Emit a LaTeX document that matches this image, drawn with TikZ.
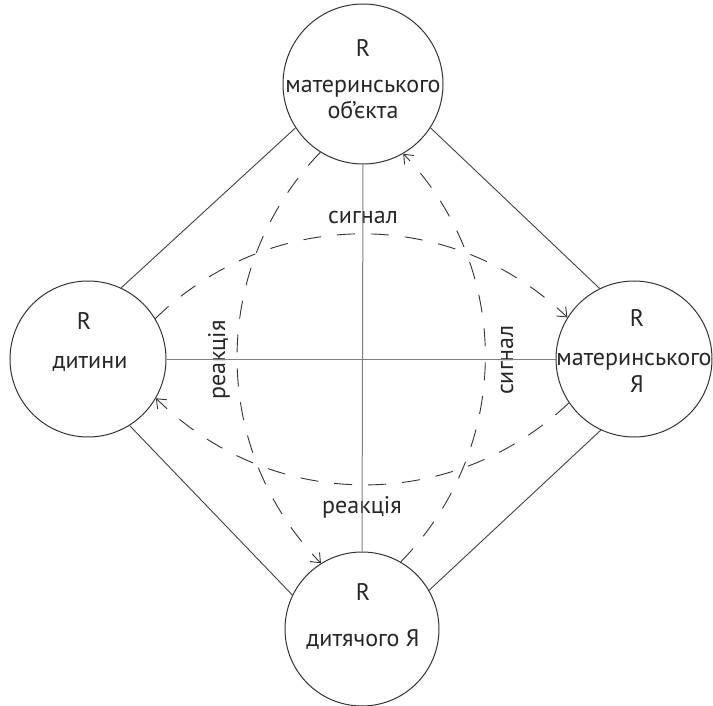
\documentclass[tikz,border=0pt]{standalone}
\usepackage{fontspec}
\setmainfont{PT Sans}
\usetikzlibrary{arrows.meta}
\begin{document}
\begin{tikzpicture}[x=1pt,y=1pt,
  circ/.style={circle,draw=black!80,line width=1pt,minimum size=156pt,inner sep=0pt},
  edgeline/.style={draw=black!75,line width=0.9pt},
  crossline/.style={draw=black!50,line width=1pt},
  flow/.style={draw=black!80,line width=0.9pt,dash pattern=on 18pt off 16pt,
    -{Straight Barb[length=8pt,width=13pt]}},
  lbl/.style={font=\fontsize{24}{28}\selectfont,text=black!85,inner sep=0pt,anchor=base}]
\useasboundingbox (0,0) rectangle (713,-706);
% circles
\node[circ,minimum size=160pt] (nT) at (363,-84) {};
\node[circ] (nL) at (88,-359) {};
\node[circ] (nR) at (634,-359) {};
\node[circ,minimum size=154pt] (nB) at (362,-629) {};
% texts
\node[lbl] (tTr) at (363,-57) {R};
\node[lbl] (tT1) at (363,-93) {материнського};
\node[lbl] (tT2) at (363,-119) {об’єкта};
\node[lbl] (tLr) at (84,-329) {R};
\node[lbl] (tL1) at (90,-368) {дитини};
\node[lbl] (tRr) at (637,-326) {R};
\node[lbl] (tR1) at (634,-365) {материнського};
\node[lbl] (tR2) at (637,-392) {Я};
\node[lbl] (tBr) at (363,-600) {R};
\node[lbl] (tB1) at (363,-646) {дитячого Я};
\node[lbl] (sTop) at (363,-224) {сигнал};
\node[lbl] (rBot) at (362,-513) {реакція};
\node[lbl,rotate=90] (rLeft) at (225,-360) {реакція};
\node[lbl,rotate=90] (sRight) at (513,-360) {сигнал};
% cross
\draw[crossline] (nT.south) -- (nB.north);
\draw[crossline] (nL.east) -- (nR.west);
% diamond
\draw[edgeline] (nL.65) -- (nT.213);
\draw[edgeline] (nT.327) -- (nR.116);
\draw[edgeline] (nL.-58) -- (nB.154);
\draw[edgeline] (nB.30) -- (nR.245);
% dashed flows
\draw[flow] (nL.31) to[bend left=44] (nR.148);
\draw[flow] (nR.214) to[bend left=44] (nL.330);
\draw[flow] (nT.238) to[bend right=44] (nB.122);
\draw[flow] (nB.60) to[bend right=44] (nT.300);
\end{tikzpicture}
\end{document}
